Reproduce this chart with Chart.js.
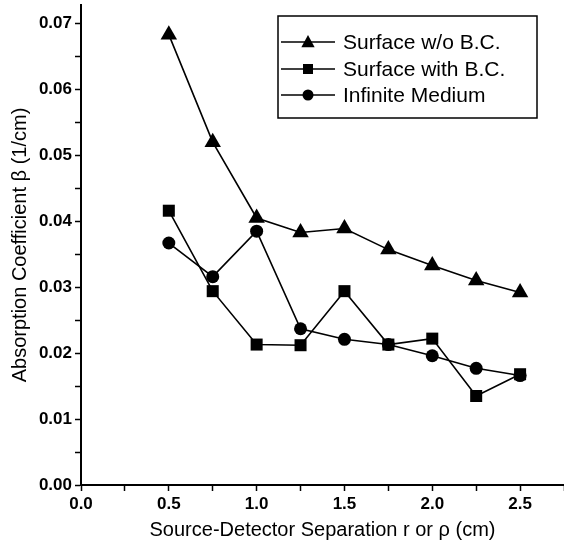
<!DOCTYPE html>
<html>
<head>
<meta charset="utf-8">
<script src="https://cdn.jsdelivr.net/npm/chart.js@4"></script>
<style>
  html, body { margin: 0; padding: 0; background: #fff; }
  #wrap { width: 564px; height: 545px; position: relative; }
</style>
</head>
<body>
<div id="wrap"><canvas id="c" width="564" height="545"></canvas></div>
<script>
const separations = [0.5, 0.75, 1.0, 1.25, 1.5, 1.75, 2.0, 2.25, 2.5];
const surfaceNoBC = [0.0683, 0.0520, 0.0405, 0.0383, 0.0389, 0.0357, 0.0333, 0.0310, 0.0292];
const surfaceWithBC = [0.0416, 0.0294, 0.0213, 0.0212, 0.0294, 0.0213, 0.0222, 0.0135, 0.0168];
const infiniteMedium = [0.0367, 0.0316, 0.0385, 0.0237, 0.0221, 0.0213, 0.0196, 0.0177, 0.0166];
const seriesLabels = ['Surface w/o B.C.', 'Surface with B.C.', 'Infinite Medium'];
const xTickValues = [0, 0.25, 0.5, 0.75, 1.0, 1.25, 1.5, 1.75, 2.0, 2.25, 2.5, 2.75];
const yTickValues = [0, 0.005, 0.01, 0.015, 0.02, 0.025, 0.03, 0.035, 0.04, 0.045, 0.05, 0.055, 0.06, 0.065, 0.07];
const xTitle = 'Source-Detector Separation r or \u03C1 (cm)';
const yTitle = 'Absorption Coefficient \u03B2 (1/cm)';

const FONT = "'Liberation Sans', Arial, sans-serif";
const toXY = (vals) => vals.map((v, i) => ({x: separations[i], y: v}));

const mk = (label, vals, style, radius) => ({
  label, data: toXY(vals),
  borderColor: '#000', backgroundColor: '#000',
  borderWidth: 1.6, pointStyle: style, pointRadius: radius,
  pointHoverRadius: radius, pointBorderWidth: 0, tension: 0
});

const legendPlugin = {
  id: 'boxLegend',
  afterDraw(chart) {
    const ctx = chart.ctx;
    const bx = 278, by = 16, bw = 259, bh = 102;
    ctx.save();
    ctx.strokeStyle = '#000';
    ctx.lineWidth = 1.5;
    ctx.strokeRect(bx, by, bw, bh);
    const rows = [42, 69, 95];
    const sizes = [7, 7.5, 5.5];
    chart.data.datasets.forEach((ds, i) => {
      const y = rows[i];
      ctx.beginPath();
      ctx.lineWidth = 1.6;
      ctx.moveTo(281, y); ctx.lineTo(335, y);
      ctx.stroke();
      ctx.fillStyle = '#000';
      ctx.beginPath();
      const r = sizes[i];
      if (ds.pointStyle === 'triangle') {
        ctx.moveTo(308, y - r); ctx.lineTo(308 + r * 0.95, y + r * 0.75); ctx.lineTo(308 - r * 0.95, y + r * 0.75);
        ctx.closePath();
      } else if (ds.pointStyle === 'rect') {
        ctx.rect(308 - 5, y - 5, 10, 10);
      } else {
        ctx.arc(308, y, r, 0, Math.PI * 2);
      }
      ctx.fill();
      ctx.font = '21px ' + FONT;
      ctx.textBaseline = 'middle';
      ctx.textAlign = 'left';
      ctx.fillText(ds.label, 343, y + 1);
    });
    ctx.restore();
  }
};

new Chart(document.getElementById('c'), {
  type: 'line',
  data: {
    datasets: [
      mk(seriesLabels[0], surfaceNoBC, 'triangle', 9.5),
      mk(seriesLabels[1], surfaceWithBC, 'rect', 8.5),
      mk(seriesLabels[2], infiniteMedium, 'circle', 6.5)
    ]
  },
  options: {
    responsive: false,
    animation: false,
    devicePixelRatio: 1,
    layout: { autoPadding: false, padding: { top: 5, right: 0, left: 0, bottom: 0 } },
    plugins: { legend: { display: false }, tooltip: { enabled: false } },
    scales: {
      x: {
        type: 'linear', min: 0, max: 2.75,
        afterFit(s) { s.height = 60; s.paddingRight = 0; s.paddingLeft = 0; },
        afterBuildTicks(s) { s.ticks = xTickValues.map(v => ({value: v})); },
        ticks: {
          padding: 3, color: '#000',
          font: { family: FONT, size: 17, weight: 'bold' },
          maxRotation: 0, autoSkip: false,
          callback: (v) => Math.abs(v * 2 - Math.round(v * 2)) < 1e-6 ? Number(v).toFixed(1) : ''
        },
        grid: { drawOnChartArea: false, drawTicks: true, tickLength: 6, color: '#000', tickWidth: 1.5 },
        border: { color: '#000', width: 2 },
        title: { display: true, text: xTitle, color: '#000', font: { family: FONT, size: 20 }, padding: { top: 0, bottom: 3 } }
      },
      y: {
        type: 'linear', min: 0, max: 0.0728,
        afterFit(s) { s.width = 81; s.paddingTop = 0; s.paddingBottom = 0; },
        afterBuildTicks(s) { s.ticks = yTickValues.map(v => ({value: v})); },
        ticks: {
          padding: 3, color: '#000',
          font: { family: FONT, size: 17, weight: 'bold' },
          autoSkip: false,
          callback: (v) => Math.abs(v * 100 - Math.round(v * 100)) < 1e-6 ? Number(v).toFixed(2) : ''
        },
        grid: { drawOnChartArea: false, drawTicks: true, tickLength: 6, color: '#000', tickWidth: 1.5 },
        border: { color: '#000', width: 2 },
        title: { display: true, text: yTitle, color: '#000', font: { family: FONT, size: 20 }, padding: { top: 8, bottom: 0 } }
      }
    }
  },
  plugins: [legendPlugin]
});
</script>
</body>
</html>
